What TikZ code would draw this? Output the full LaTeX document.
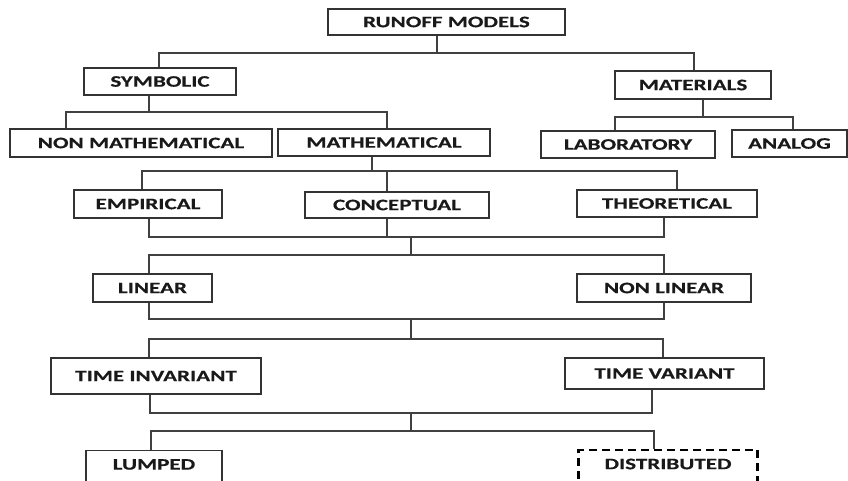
\documentclass[tikz,border=0pt]{standalone}
\usepackage{fontspec}
\newfontfamily\boxfont{Carlito}[FakeStretch=1.44,FakeBold=0.4]
\begin{document}
\begin{tikzpicture}[x=1pt,y=-1pt,
  box/.style={draw=black!80, line width=1.2pt, rectangle, inner sep=0pt,
    font=\boxfont\fontsize{16}{18}\selectfont\bfseries, text=black!90},
  cut/.style={box, anchor=north, text height=10pt, text depth=22pt, inner ysep=9pt},
  dashbox/.style={cut, draw=black, line width=2.4pt, dash pattern=on 8pt off 5pt},
  conn/.style={draw=black!75, line width=1.2pt}]
\useasboundingbox (0,0) rectangle (848,481);
\clip (0,0) rectangle (848,481);
% boxes
\node[box, minimum width=237pt, minimum height=26pt] (runoff) at (446.5,22) {RUNOFF MODELS};
\node[box, minimum width=152pt, minimum height=27pt] (symbolic) at (160,81.5) {SYMBOLIC};
\node[box, minimum width=156pt, minimum height=28pt] (materials) at (693,85) {MATERIALS};
\node[box, minimum width=262pt, minimum height=28pt] (nonmath) at (141,143) {NON MATHEMATICAL};
\node[box, minimum width=212pt, minimum height=27pt] (math) at (384,142.5) {MATHEMATICAL};
\node[box, minimum width=174pt, minimum height=27pt] (lab) at (628,144.5) {LABORATORY};
\node[box, minimum width=115pt, minimum height=27pt] (analog) at (789.5,143.5) {ANALOG};
\node[box, minimum width=148pt, minimum height=28pt] (emp) at (148,204) {EMPIRICAL};
\node[box, minimum width=184pt, minimum height=26pt] (conc) at (397,205) {CONCEPTUAL};
\node[box, minimum width=180pt, minimum height=27pt] (theo) at (667,203.5) {THEORETICAL};
\node[box, minimum width=119pt, minimum height=28pt] (lin) at (152.5,288) {LINEAR};
\node[box, minimum width=174pt, minimum height=28pt] (nonlin) at (664,288) {NON LINEAR};
\node[box, minimum width=210pt, minimum height=36pt] (tinv) at (156,376) {TIME INVARIANT};
\node[box, minimum width=199pt, minimum height=31pt] (tvar) at (664.5,373.5) {TIME VARIANT};
\node[cut, minimum width=136pt] (lumped) at (154,450) {LUMPED};
\node[dashbox, minimum width=179pt] (distr) at (668,449) {DISTRIBUTED};
% junction coordinates
\coordinate (r0) at (437,53);
\coordinate (r1) at (159,53);
\coordinate (r2) at (694,53);
\coordinate (s0) at (149,112);
\coordinate (s1) at (66,112);
\coordinate (s2) at (387,112);
\coordinate (m0) at (703,117);
\coordinate (m1) at (615,117);
\coordinate (m2) at (793,117);
\coordinate (k0) at (372,171);
\coordinate (k1) at (142,171);
\coordinate (k2) at (387,171);
\coordinate (k3) at (677,171);
\coordinate (e1) at (149,237);
\coordinate (e2) at (387,237);
\coordinate (e3) at (664,237);
\coordinate (e0) at (411,237);
\coordinate (f0) at (411,255);
\coordinate (f1) at (149,255);
\coordinate (f2) at (664,255);
\coordinate (g1) at (149,319);
\coordinate (g2) at (664,319);
\coordinate (g0) at (411,319);
\coordinate (h0) at (411,339);
\coordinate (h1) at (149,339);
\coordinate (h2) at (663,339);
\coordinate (t1) at (150,413);
\coordinate (t2) at (652,413);
\coordinate (t0) at (411,413);
\coordinate (u0) at (411,431);
\coordinate (u1) at (151,431);
\coordinate (u2) at (654,431);
% connectors
\draw[conn] (runoff.south -| r0) -- (r0);
\draw[conn] (symbolic.north -| r1) -- (r1) -- (r2) -- (materials.north -| r2);
\draw[conn] (symbolic.south -| s0) -- (s0);
\draw[conn] (nonmath.north -| s1) -- (s1) -- (s2) -- (math.north -| s2);
\draw[conn] (materials.south -| m0) -- (m0);
\draw[conn] (lab.north -| m1) -- (m1) -- (m2) -- (analog.north -| m2);
\draw[conn] (math.south -| k0) -- (k0);
\draw[conn] (emp.north -| k1) -- (k1) -- (k3) -- (theo.north -| k3);
\draw[conn] (k2) -- (conc.north -| k2);
\draw[conn] (emp.south -| e1) -- (e1) -- (e3) -- (theo.south -| e3);
\draw[conn] (conc.south -| e2) -- (e2);
\draw[conn] (e0) -- (f0);
\draw[conn] (lin.north -| f1) -- (f1) -- (f2) -- (nonlin.north -| f2);
\draw[conn] (lin.south -| g1) -- (g1) -- (g2) -- (nonlin.south -| g2);
\draw[conn] (g0) -- (h0);
\draw[conn] (tinv.north -| h1) -- (h1) -- (h2) -- (tvar.north -| h2);
\draw[conn] (tinv.south -| t1) -- (t1) -- (t2) -- (tvar.south -| t2);
\draw[conn] (t0) -- (u0);
\draw[conn] (lumped.north -| u1) -- (u1) -- (u2) -- (distr.north -| u2);
\end{tikzpicture}
\end{document}
